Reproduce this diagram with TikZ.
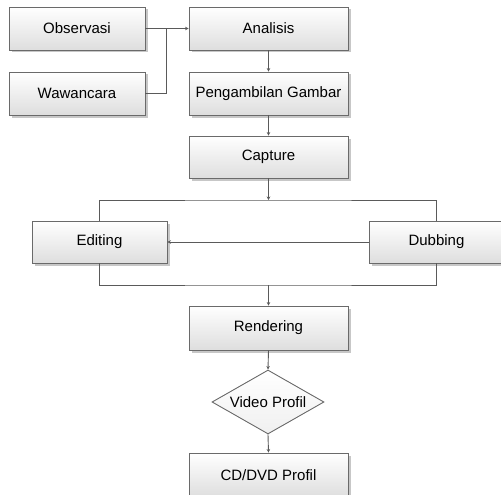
\documentclass[tikz,border=0pt]{standalone}
\usepackage{fontspec}
\setmainfont{Liberation Sans}
\usetikzlibrary{shapes.geometric,shadows,arrows.meta}
\definecolor{linec}{HTML}{5A5A5A}
\definecolor{boxc}{HTML}{6A6A6A}
\tikzset{
  proc/.style={draw=boxc, line width=0.9pt, top color=white, bottom color=black!13,
    minimum height=43pt, inner sep=0pt, font=\fontsize{15pt}{18pt}\selectfont,
    drop shadow={shadow xshift=2.5pt, shadow yshift=-2.5pt, fill=black!22, opacity=1}},
  dec/.style={draw=boxc, line width=0.9pt, diamond, aspect=1.75, inner sep=0pt,
    top color=white, bottom color=black!6,
    minimum width=112pt, minimum height=64pt, font=\fontsize{15pt}{18pt}\selectfont},
  conn/.style={draw=linec, line width=0.9pt},
  arr/.style={conn, -{Stealth[length=3.5pt,width=3.5pt]}}
}
\begin{document}
\begin{tikzpicture}[x=1pt,y=1pt]
\useasboundingbox (0,0) rectangle (501,-495);
\node[proc, minimum width=136pt] (obs) at (77,-28.5) {Observasi};
\node[proc, minimum width=136pt] (waw) at (77,-93.5) {Wawancara};
\node[proc, minimum width=159pt] (ana) at (268.5,-28.5) {Analisis};
\node[proc, minimum width=159pt] (pen) at (268.5,-93.5) {Pengambilan Gambar};
\node[proc, minimum width=159pt, minimum height=42pt] (cap) at (268.5,-157) {Capture};
\node[proc, minimum width=135pt, minimum height=42pt] (edi) at (99.5,-242) {Editing};
\node[proc, minimum width=135pt, minimum height=42pt] (dub) at (436.5,-242) {Dubbing};
\node[proc, minimum width=159pt, minimum height=44pt] (ren) at (268.5,-328) {Rendering};
\node[dec] (vid) at (268,-402) {Video Profil};
\node[proc, minimum width=159pt, minimum height=44pt] (cd) at (268.5,-475) {CD/DVD Profil};
\coordinate (j1) at (166,-28.5);
\coordinate (s1) at (268.5,-200);
\coordinate (s2) at (268.5,-285);
% connectors
\draw[arr] (obs.east) -- (ana.west);
\draw[conn] (waw.east) -| (j1);
\draw[arr] (ana.south) -- (pen.north);
\draw[arr] (pen.south) -- (cap.north);
\draw[arr] (cap.south) -- (s1);
\draw[conn] (edi.north) |- (s1) -| (dub.north);
\draw[arr] (dub.west) -- (edi.east);
\draw[conn] (edi.south) |- (s2) -| (dub.south);
\draw[arr] (s2) -- (ren.north);
\draw[arr] (ren.south) -- (vid.north);
\draw[arr] (vid.south) -- (cd.north);
\end{tikzpicture}
\end{document}
